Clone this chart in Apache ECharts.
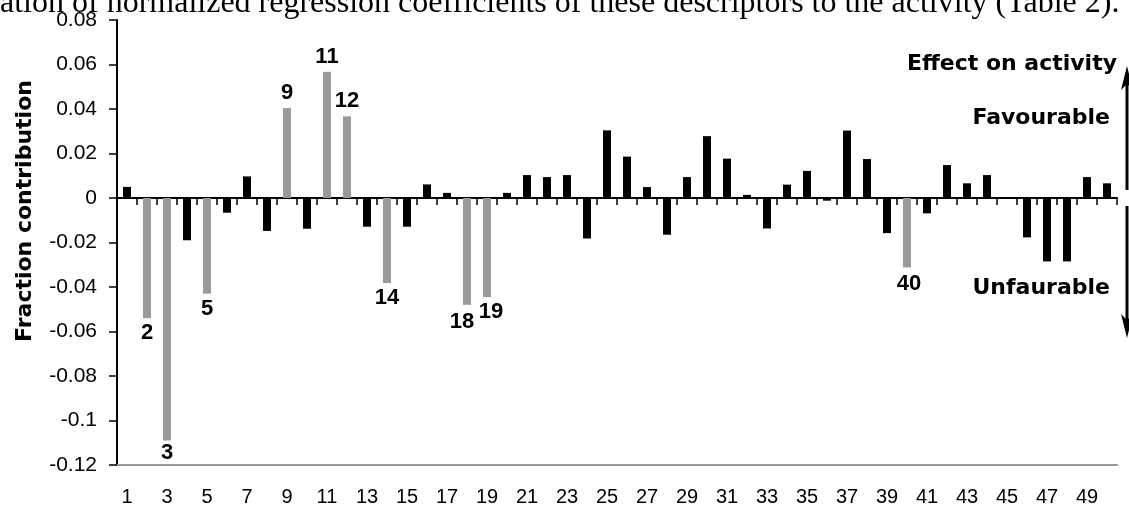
<!DOCTYPE html>
<html>
<head>
<meta charset="utf-8">
<script src="https://cdn.jsdelivr.net/npm/echarts@6/dist/echarts.min.js"></script>
<style>
html,body{margin:0;padding:0;background:#fff;}
#chart{width:1129px;height:508px;}
</style>
</head>
<body>
<div id="chart"></div>
<script>
// ---- data ----
var categories = [];
for (var i = 1; i <= 50; i++) categories.push(String(i));
var values = [
  0.005, -0.054, -0.109, -0.019, -0.043, -0.0066, 0.0097, -0.0148, 0.0404, -0.0138,
  0.0567, 0.0367, -0.0129, -0.0382, -0.0129, 0.0061, 0.0023, -0.048, -0.0446, 0.0023,
  0.0103, 0.0094, 0.0103, -0.0182, 0.0304, 0.0186, 0.0049, -0.0165, 0.0094, 0.0278,
  0.0177, 0.0014, -0.0137, 0.006, 0.0122, -0.0012, 0.0303, 0.0175, -0.0158, -0.0312,
  -0.0069, 0.0148, 0.0066, 0.0103, 0, -0.0177, -0.0285, -0.0285, 0.0094, 0.0066
];
var highlighted = ['2', '3', '5', '9', '11', '12', '14', '18', '19', '40'];
var yMin = -0.12, yMax = 0.08, yStep = 0.02;
var headerText = 'ation of normalized regression coefficients of these descriptors to the activity (Table 2).';
var yTitle = 'Fraction contribution';
var noteTitle = 'Effect on activity';
var noteUp = 'Favourable';
var noteDown = 'Unfaurable';

// ---- chart ----
var labelOffsets = { '18': [-5, 2], '19': [4, 0], '3': [0, -3], '40': [2, 2] };
var barData = values.map(function (v, i) {
  var name = categories[i];
  var hi = highlighted.indexOf(name) >= 0;
  var item = { value: v, itemStyle: { color: hi ? '#9a9a9a' : '#000000' } };
  if (hi) {
    item.label = {
      show: true,
      position: v >= 0 ? 'top' : 'bottom',
      distance: 4,
      offset: labelOffsets[name] || [0, 0],
      formatter: name
    };
  }
  return item;
});

var chart = echarts.init(document.getElementById('chart'), null, { renderer: 'canvas' });
var tickFont = 'Liberation Sans, Arial, sans-serif';
chart.setOption({
  animation: false,
  backgroundColor: '#ffffff',
  grid: { left: 117, right: 12, top: 20, bottom: 43, containLabel: false },
  xAxis: [
    {
      type: 'category', data: categories, position: 'bottom',
      axisLine: { onZero: false, lineStyle: { color: '#9a9a9a', width: 2 } },
      axisTick: { show: false },
      axisLabel: { interval: 1, margin: 22, color: '#000', fontSize: 20, fontFamily: tickFont },
      splitLine: { show: false }
    },
    {
      type: 'category', data: categories, position: 'bottom',
      axisLine: { onZero: true, lineStyle: { color: '#000', width: 2 } },
      axisTick: { show: true, interval: 0, length: 7, lineStyle: { color: '#000', width: 1.5 } },
      axisLabel: { show: false },
      splitLine: { show: false }
    }
  ],
  yAxis: {
    type: 'value', min: yMin, max: yMax, interval: yStep,
    axisLine: { show: true, lineStyle: { color: '#000', width: 2 } },
    axisTick: { show: true, length: 8, lineStyle: { color: '#000', width: 1.5 } },
    axisLabel: { margin: 20, color: '#000', fontSize: 21, fontFamily: tickFont,
      formatter: function (v) { return String(Math.round(v * 100) / 100); } },
    splitLine: { show: false }
  },
  series: [{
    type: 'bar', xAxisIndex: 0, data: barData, barWidth: 8,
    label: { color: '#000', fontSize: 22, fontWeight: 'bold', fontFamily: tickFont }
  }],
  graphic: [
    { type: 'text', left: 0, top: -12, style: { text: headerText, font: '32px "Liberation Serif", "Times New Roman", serif', fill: '#000' } },
    { type: 'text', x: 25, y: 211, rotation: Math.PI / 2,
      style: { text: yTitle, align: 'center', verticalAlign: 'middle', font: 'bold 22px "DejaVu Sans", sans-serif', fill: '#000' } },
    { type: 'text', right: 12, top: 53, style: { text: noteTitle, font: 'bold 22px "DejaVu Sans", sans-serif', fill: '#000' } },
    { type: 'text', right: 19, top: 107, style: { text: noteUp, font: 'bold 22px "DejaVu Sans", sans-serif', fill: '#000' } },
    { type: 'text', right: 19, top: 277, style: { text: noteDown, font: 'bold 22px "DejaVu Sans", sans-serif', fill: '#000' } },
    { type: 'line', shape: { x1: 1127, y1: 190, x2: 1127, y2: 74 }, style: { stroke: '#000', lineWidth: 3 } },
    { type: 'polygon', shape: { points: [[1127, 66], [1121, 90], [1127, 84], [1133, 90]] }, style: { fill: '#000' } },
    { type: 'line', shape: { x1: 1127, y1: 206, x2: 1127, y2: 330 }, style: { stroke: '#000', lineWidth: 3 } },
    { type: 'polygon', shape: { points: [[1127, 338], [1121, 314], [1127, 320], [1133, 314]] }, style: { fill: '#000' } }
  ]
});
</script>
</body>
</html>
